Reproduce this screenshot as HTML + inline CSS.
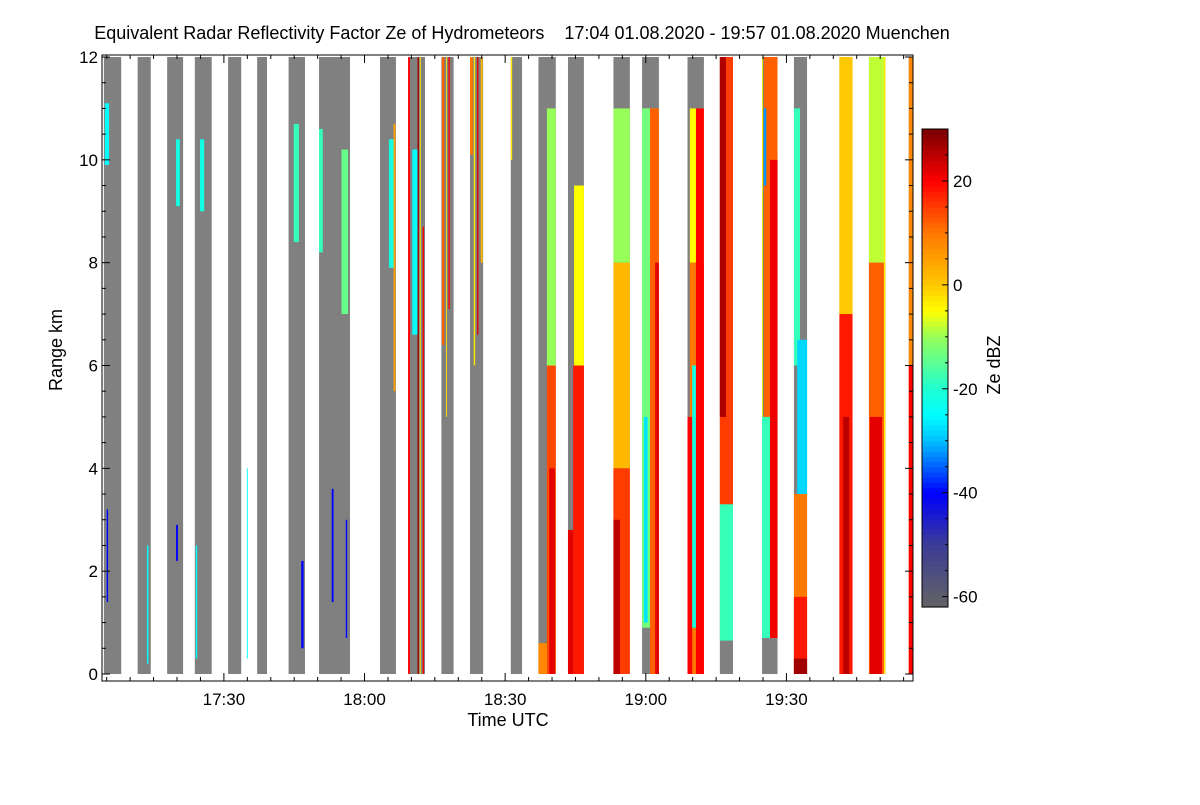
<!DOCTYPE html>
<html><head><meta charset="utf-8"><style>
body{margin:0;background:#fff;}
svg text{font-family:"Liberation Sans",sans-serif;fill:#000;}
</style></head><body>
<svg id="chart" width="1200" height="800" viewBox="0 0 1200 800" xmlns="http://www.w3.org/2000/svg">
<text x="522" y="39" font-size="18" text-anchor="middle">Equivalent Radar Reflectivity Factor Ze of Hydrometeors&#160;&#160;&#160; 17:04 01.08.2020 - 19:57 01.08.2020 Muenchen</text>
<g id="plot"></g>
<g id="axes"></g>
<text transform="translate(62,350) rotate(-90)" font-size="18" text-anchor="middle">Range km</text>
<text x="508" y="726" font-size="18" text-anchor="middle">Time UTC</text>
<g id="cbar"></g>
<text transform="translate(1000,365) rotate(-90)" font-size="18" text-anchor="middle">Ze dBZ</text>
</svg>
<script>
// minutes since 17:00
const scanStart=[4.4,11.6,17.9,23.8,30.9,37.1,43.8,50.3,63.3,69.3,76.4,82.5,91.2,97.1,103.4,113.1,119.2,128.9,135.8,144.8,151.6,161.3,167.6,176.1];
const scanEnd=[8.1,14.4,21.3,27.4,33.7,39.2,47.3,56.9,66.7,72.9,79.0,85.3,93.6,100.8,106.8,116.6,122.8,132.4,138.6,148.1,154.4,164.1,171.1,177];
const echoT0=[4.6,19.8,24.9,44.9,50.3,55.1,65.2,66.2,69.3,70.2,71.3,71.8,72.4,76.5,77.9,77.4,82.5,83.3,84.0,84.8,91.2,98.9,98.9,99.4,97.1,104.7,104.5,103.4,113.1,113.1,113.1,113.1,119.2,119.2,120.9,122.0,129.4,129.4,128.9,129.9,130.7,135.8,135.8,135.8,145.2,146.5,144.8,144.8,145.2,151.6,152.3,151.6,151.6,151.6,161.3,161.3,162.1,167.6,167.6,167.8,170.8,176.1,176.1,5.0,13.6,19.8,24.0,34.9,56.0,46.5,53.0,119.6];
const echoT1=[5.5,20.6,25.8,46.0,51.1,56.5,66.3,66.6,69.7,71.3,71.6,72.0,72.7,77.0,78.2,77.6,83.1,83.6,84.3,85.2,91.5,100.8,100.8,100.6,98.9,106.8,106.8,104.5,116.6,116.6,116.6,114.5,122.8,120.9,122.8,122.8,132.4,132.4,129.9,130.7,132.4,138.6,137.1,138.6,148.1,148.1,146.5,145.0,145.7,152.9,154.4,154.4,154.4,154.4,164.1,164.1,163.4,171.1,171.1,170.4,171.1,177,177,5.3,13.9,20.2,24.3,35.1,56.3,47.0,53.4,120.4];
const echoH0=[9.9,9.1,9.0,8.4,8.2,7.0,7.9,5.5,0,6.6,0,0,0,6.4,7.1,5,10.1,6,6.6,8,10,6,0,0,0,6,0,0,8,4,0,0,7,0.9,0,0,8,0,0,0.9,0,3.3,5,0.65,0.7,0.7,0.7,5,9.5,6,3.5,0,0,0,7,0,0,8,0,0,0,0,0,1.4,0.2,2.2,0.3,0.3,0.7,0.5,1.4,1.0];
const echoH1=[11.1,10.4,10.4,10.7,10.6,10.2,10.4,10.7,12,10.2,12,12,8.7,12,12,12,12,12,12,12,12,11,6,4,0.6,9.5,6,2.8,11,8,4,3,11,11,11,8,11,8,5,6,11,12,12,3.3,12,10,5,12,11,11,6.5,3.5,1.5,0.3,12,7,5,12,8,5,12,12,6,3.2,2.5,2.9,2.5,4,3,2.2,3.6,5.0];
const echoZ=[-25,-22,-22,-18,-18,-14,-22,5,20,-25,27,-3,20,12,20,-2,10,-3,22,2,-3,-10,14,22,8,-5,18,22,-10,2,15,25,-5,-13,12,22,-5,10,20,-22,20,15,26,-18,12,21,-18,-3,-32,-18,-28,10,18,27,0,18,25,-8,12,22,-3,8,20,-40,-25,-40,-25,-25,-40,-40,-40,-27];
const yTicks=[0,2,4,6,8,10,12];
const xTickLabels=["17:30","18:00","18:30","19:00","19:30"];
const xTickMins=[30,60,90,120,150];
const cbTicks=[20,0,-20,-40,-60];

const NS="http://www.w3.org/2000/svg";
const X0=102,X1=913,Y0=674,Y1=57,T0=4,T1=177;
const xs=t=>X0+(t-T0)/(T1-T0)*(X1-X0);
const ys=h=>Y0+(h/12)*(Y1-Y0);
const CB_TOP=129,CB_BOT=607,ZMAX=30,ZMIN=-62;
const cy=z=>CB_TOP+(ZMAX-z)/(ZMAX-ZMIN)*(CB_BOT-CB_TOP);
const stops=[[-62,100,100,100],[-50,60,60,150],[-40,0,0,255],[-30,0,190,255],[-25,0,255,255],[-20,30,255,210],[-10,150,255,90],[-5,255,255,0],[0,255,200,0],[10,255,120,0],[20,255,0,0],[30,120,0,0]];
function color(z){
  if(z<=stops[0][0])return "rgb(100,100,100)";
  for(let i=1;i<stops.length;i++){if(z<=stops[i][0]){const a=stops[i-1],b=stops[i],f=(z-a[0])/(b[0]-a[0]);
    return `rgb(${Math.round(a[1]+f*(b[1]-a[1]))},${Math.round(a[2]+f*(b[2]-a[2]))},${Math.round(a[3]+f*(b[3]-a[3]))})`;}}
  return "rgb(120,0,0)";
}
function mk(tag,attrs,parent){const e=document.createElementNS(NS,tag);for(const k in attrs)e.setAttribute(k,attrs[k]);parent.appendChild(e);return e;}
const plot=document.getElementById('plot');
for(let i=0;i<scanStart.length;i++){
  const r=mk('rect',{x:xs(scanStart[i]),y:ys(12),width:xs(scanEnd[i])-xs(scanStart[i]),height:ys(0)-ys(12),fill:'#808080'},plot);
  
  
}
for(let i=0;i<echoT0.length;i++){
  const r=mk('rect',{x:xs(echoT0[i]),y:ys(echoH1[i]),width:xs(echoT1[i])-xs(echoT0[i]),height:ys(echoH0[i])-ys(echoH1[i]),fill:color(echoZ[i])},plot);
  
  
}
const ax=document.getElementById('axes');
mk('rect',{x:X0,y:55,width:X1-X0,height:681-55,fill:'none',stroke:'#000','stroke-width':1},ax);
for(let h=0;h<=12;h+=0.5){const y=ys(h);const L=(h%2===0)?8:4;
  mk('line',{x1:X0,x2:X0+L,y1:y,y2:y,stroke:'#000'},ax);mk('line',{x1:X1,x2:X1-L,y1:y,y2:y,stroke:'#000'},ax);}
yTicks.forEach(h=>{const t=mk('text',{x:98,y:ys(h)+6,'font-size':17,'text-anchor':'end'},ax);t.textContent=h;
  
  });
for(let m=5;m<=175;m+=5){const x=xs(m);const L=(m%30===0)?8:4;
  mk('line',{x1:x,x2:x,y1:681,y2:681-L,stroke:'#000'},ax);mk('line',{x1:x,x2:x,y1:55,y2:55+L,stroke:'#000'},ax);}
xTickMins.forEach((m,i)=>{const t=mk('text',{x:xs(m),y:705,'font-size':17,'text-anchor':'middle'},ax);t.textContent=xTickLabels[i];
  
  });
const cb=document.getElementById('cbar');
for(let z=ZMIN;z<ZMAX;z+=1){mk('rect',{x:922,y:cy(z+1),width:26,height:cy(z)-cy(z+1)+0.6,fill:color(z+0.5)},cb);}
mk('rect',{x:922,y:CB_TOP,width:26,height:CB_BOT-CB_TOP,fill:'none',stroke:'#000'},cb);
for(let z=-60;z<=30;z+=5){const L=(z%20===0)?6:3;mk('line',{x1:948,x2:948-L,y1:cy(z),y2:cy(z),stroke:'#000'},cb);}
cbTicks.forEach(z=>{const t=mk('text',{x:953,y:cy(z)+6,'font-size':17},cb);t.textContent=z;
  
  });
</script>
</body></html>
